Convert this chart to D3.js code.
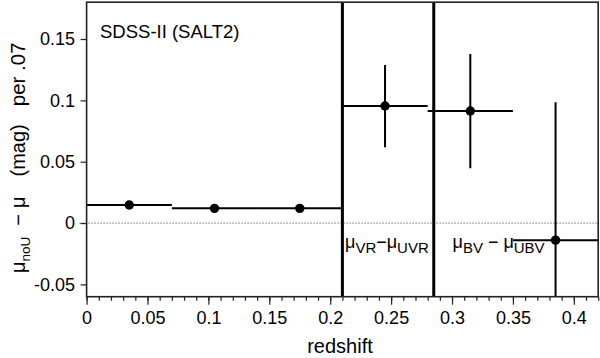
<!DOCTYPE html>
<html>
<head>
<meta charset="utf-8">
<script src="https://cdn.jsdelivr.net/npm/d3@7/dist/d3.min.js"></script>
<style>
  html, body { margin: 0; padding: 0; background: #fff; }
  svg { display: block; font-family: "Liberation Sans", Arial, Helvetica, sans-serif; }
  text { white-space: pre; }
</style>
</head>
<body>
<svg id="chart" width="600" height="358"></svg>
<script>
// ---- data ----
const binLo   = [0.00, 0.07, 0.14, 0.21, 0.28, 0.35];
const binHi   = [0.07, 0.14, 0.21, 0.28, 0.35, 0.42];
const zMid    = [0.035, 0.105, 0.175, 0.245, 0.315, 0.385];
const dMu     = [0.0147, 0.0120, 0.0120, 0.0954, 0.0913, -0.0139];
const errHigh = [0.0147, 0.0120, 0.0120, 0.1288, 0.1377, 0.0984];
const errLow  = [0.0147, 0.0120, 0.0120, 0.0617, 0.0446, -0.1262];
const dividers = [0.21, 0.285];
const xMajorTicks = [0, 0.05, 0.1, 0.15, 0.2, 0.25, 0.3, 0.35, 0.4];
const xTickLabels = ["0", "0.05", "0.1", "0.15", "0.2", "0.25", "0.3", "0.35", "0.4"];
const xMinorTicks = d3.range(0, 43).map(i => i / 100);
const yTicks = [-0.05, 0, 0.05, 0.1, 0.15];
const yTickLabels = ["-0.05", "0", "0.05", "0.1", "0.15"];

// ---- layout ----
const pL = 86.6, pR = 598.2, pT = 2.2, pB = 296.7;
const svg = d3.select("#chart");
const x = d3.scaleLinear().domain([0, 0.42]).range([pL, pR]);
const y = d3.scaleLinear().domain([-0.06, 0.18]).range([pB, pT]);

svg.append("defs").append("clipPath").attr("id", "clip")
  .append("rect").attr("x", pL).attr("y", pT)
  .attr("width", pR - pL).attr("height", pB - pT);

// zero reference line (dotted)
svg.append("line")
  .attr("x1", pL - 7).attr("x2", pR)
  .attr("y1", y(0)).attr("y2", y(0))
  .attr("stroke", "#333").attr("stroke-width", 1)
  .attr("stroke-dasharray", "1,2");

const plot = svg.append("g").attr("clip-path", "url(#clip)");

// divider lines
plot.selectAll("line.div").data(dividers).enter().append("line")
  .attr("class", "div")
  .attr("x1", d => x(d)).attr("x2", d => x(d))
  .attr("y1", pT).attr("y2", pB)
  .attr("stroke", "#000").attr("stroke-width", 3);

const idx = d3.range(zMid.length);
// horizontal bin bars
plot.selectAll("line.hbar").data(idx).enter().append("line")
  .attr("class", "hbar")
  .attr("x1", i => x(binLo[i])).attr("x2", i => x(binHi[i]))
  .attr("y1", i => y(dMu[i])).attr("y2", i => y(dMu[i]))
  .attr("stroke", "#000").attr("stroke-width", 2);
// vertical error bars
plot.selectAll("line.vbar").data(idx).enter().append("line")
  .attr("class", "vbar")
  .attr("x1", i => x(zMid[i])).attr("x2", i => x(zMid[i]))
  .attr("y1", i => y(errHigh[i])).attr("y2", i => y(errLow[i]))
  .attr("stroke", "#000").attr("stroke-width", 2);
// points
plot.selectAll("circle").data(idx).enter().append("circle")
  .attr("cx", i => x(zMid[i])).attr("cy", i => y(dMu[i]))
  .attr("r", 4.7).attr("fill", "#000");

// axes
const xMinor = svg.append("g").attr("transform", `translate(0,${pB})`)
  .call(d3.axisBottom(x).tickValues(xMinorTicks).tickSize(4).tickFormat(""));
const xAxis = svg.append("g").attr("transform", `translate(0,${pB})`)
  .call(d3.axisBottom(x).tickValues(xMajorTicks).tickSize(8).tickPadding(7)
    .tickFormat((d, i) => xTickLabels[i]));
const yAxis = svg.append("g").attr("transform", `translate(${pL},0)`)
  .call(d3.axisLeft(y).tickValues(yTicks).tickSize(6).tickPadding(5.5)
    .tickFormat((d, i) => yTickLabels[i]));
[xMinor, xAxis, yAxis].forEach(g => {
  g.select(".domain").remove();
  g.selectAll(".tick line").attr("stroke", "#222").attr("stroke-width", 1.2);
  g.selectAll(".tick text").attr("fill", "#000")
    .style("font-family", '"Liberation Sans", Arial, sans-serif').style("font-size", "18px");
});

// frame
svg.append("rect").attr("x", pL).attr("y", pT)
  .attr("width", pR - pL).attr("height", pB - pT)
  .attr("fill", "none").attr("stroke", "#222").attr("stroke-width", 1.6);

// axis titles
svg.append("text").attr("x", 340).attr("y", 352.5)
  .attr("text-anchor", "middle").style("font-size", "20px").text("redshift");

const yl = svg.append("text")
  .attr("transform", "translate(25,273) rotate(-90)")
  .attr("text-anchor", "start").style("font-size", "20px");
yl.append("tspan").text("\u03bc");
yl.append("tspan").attr("dy", 5).style("font-size", "13.5px").text("noU");
yl.append("tspan").attr("dy", -5).attr("dx", 11).text("\u2212");
yl.append("tspan").attr("dx", 6).text("\u03bc");
yl.append("tspan").attr("dx", 20).text("(mag)");
yl.append("tspan").attr("dx", 18).style("font-size", "20.5px").text("per .07");

// annotations
svg.append("text").attr("x", 100).attr("y", 38)
  .style("font-size", "18.5px").text("SDSS-II (SALT2)");

function muLabel(xp, yp, parts) {
  const t = svg.append("text").attr("x", xp).attr("y", yp).style("font-size", "18px");
  let sub = false;
  parts.forEach(p => {
    if (p.sub) {
      t.append("tspan").attr("dy", sub ? 0 : 5).style("font-size", "15px").text(p.s);
      sub = true;
    } else {
      t.append("tspan").attr("dy", sub ? -5 : 0).text(p.s);
      sub = false;
    }
  });
}
muLabel(345, 248, [{s: "\u03bc"}, {s: "VR", sub: true}, {s: "\u2212\u03bc"}, {s: "UVR", sub: true}]);
muLabel(452.5, 248, [{s: "\u03bc"}, {s: "BV", sub: true}, {s: " \u2212 \u03bc"}, {s: "UBV", sub: true}]);
</script>
</body>
</html>
